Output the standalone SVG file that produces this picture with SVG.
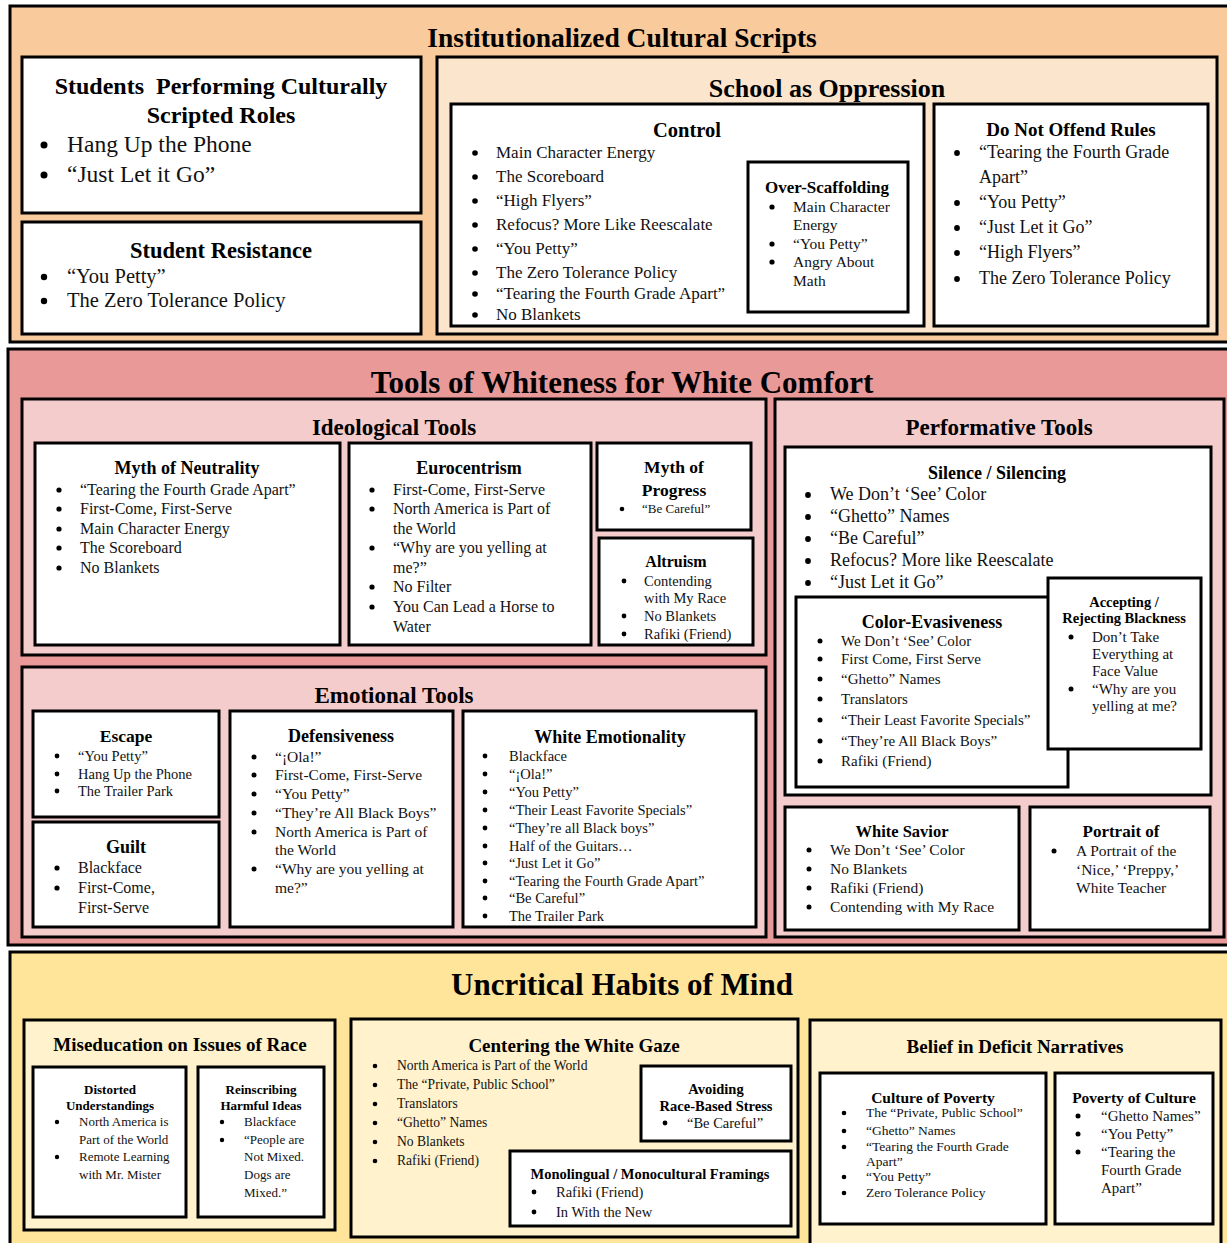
<svg xmlns="http://www.w3.org/2000/svg" width="1227" height="1243" viewBox="0 0 1227 1243">
<style>
rect{stroke:#000;stroke-width:3}
.s1{fill:#f9cb9c}.i1{fill:#fce5cd}.s2{fill:#ea9999}.i2{fill:#f4cccc}.s3{fill:#ffe599}.i3{fill:#fff2cc}.w{fill:#fff}
text{font-family:"Liberation Serif","Times New Roman",serif;fill:#111}
.t{font-weight:bold;text-anchor:middle;fill:#000}
circle{fill:#000}
</style>
<rect width="1227" height="1243" fill="#fff" style="stroke:none"/>

<g id="sec-institutional">
<rect class="s1" x="10" y="6" width="1225" height="336"/>
<text class="t" x="622" y="47" font-size="27.5">Institutionalized Cultural Scripts</text>
</g>
<g id="students-performing">
<rect class="w" x="22" y="57" width="399" height="156"/>
<text class="t" x="221" y="94" font-size="24" xml:space="preserve">Students  Performing Culturally</text>
<text class="t" x="221" y="123" font-size="24">Scripted Roles</text>
<g font-size="23.5"><circle cx="44" cy="145" r="3.5"/><text x="67" y="152">Hang Up the Phone</text>
<circle cx="44" cy="175" r="3.5"/><text x="67" y="182">“Just Let it Go”</text></g>
</g>
<g id="student-resistance">
<rect class="w" x="22" y="222" width="399" height="112"/>
<text class="t" x="221" y="258" font-size="22.5">Student Resistance</text>
<g font-size="20.5"><circle cx="44" cy="277" r="3.2"/><text x="67" y="283">“You Petty”</text>
<circle cx="44" cy="301" r="3.2"/><text x="67" y="307">The Zero Tolerance Policy</text></g>
</g>
<g id="school-oppression">
<rect class="i1" x="437" y="57" width="780" height="277"/>
<text class="t" x="827" y="97" font-size="26">School as Oppression</text>
</g>
<g id="control">
<rect class="w" x="451" y="104" width="473" height="222"/>
<text class="t" x="687" y="137" font-size="20.5">Control</text>
<g font-size="17">
<circle cx="475" cy="153" r="2.8"/><text x="496" y="158">Main Character Energy</text>
<circle cx="475" cy="177" r="2.8"/><text x="496" y="182">The Scoreboard</text>
<circle cx="475" cy="201" r="2.8"/><text x="496" y="206">“High Flyers”</text>
<circle cx="475" cy="225" r="2.8"/><text x="496" y="230">Refocus? More Like Reescalate</text>
<circle cx="475" cy="249" r="2.8"/><text x="496" y="254">“You Petty”</text>
<circle cx="475" cy="273" r="2.8"/><text x="496" y="278">The Zero Tolerance Policy</text>
<circle cx="475" cy="294" r="2.8"/><text x="496" y="299">“Tearing the Fourth Grade Apart”</text>
<circle cx="475" cy="315" r="2.8"/><text x="496" y="320">No Blankets</text>
</g>
</g>
<g id="over-scaffolding">
<rect class="w" x="748" y="162" width="160" height="150"/>
<text class="t" x="827" y="193" font-size="17">Over-Scaffolding</text>
<g font-size="15.5">
<circle cx="772" cy="207" r="2.6"/><text x="793" y="212">Main Character</text>
<text x="793" y="230">Energy</text>
<circle cx="772" cy="244" r="2.6"/><text x="793" y="249">“You Petty”</text>
<circle cx="772" cy="262" r="2.6"/><text x="793" y="267">Angry About</text>
<text x="793" y="286">Math</text>
</g>
</g>
<g id="do-not-offend">
<rect class="w" x="934" y="104" width="274" height="222"/>
<text class="t" x="1071" y="136" font-size="19">Do Not Offend Rules</text>
<g font-size="18">
<circle cx="957" cy="153" r="2.9"/><text x="979" y="158">“Tearing the Fourth Grade</text>
<text x="979" y="183">Apart”</text>
<circle cx="957" cy="203" r="2.9"/><text x="979" y="208">“You Petty”</text>
<circle cx="957" cy="228" r="2.9"/><text x="979" y="233">“Just Let it Go”</text>
<circle cx="957" cy="253" r="2.9"/><text x="979" y="258">“High Flyers”</text>
<circle cx="957" cy="279" r="2.9"/><text x="979" y="284">The Zero Tolerance Policy</text>
</g>
</g>

<g id="sec-tools">
<rect class="s2" x="8" y="349" width="1227" height="596"/>
<text class="t" x="622" y="393" font-size="31">Tools of Whiteness for White Comfort</text>
</g>
<g id="ideological-tools">
<rect class="i2" x="22" y="399" width="744" height="256"/>
<text class="t" x="394" y="435" font-size="23">Ideological Tools</text>
</g>
<g id="myth-neutrality">
<rect class="w" x="35" y="443" width="305" height="202"/>
<text class="t" x="187" y="474" font-size="18">Myth of Neutrality</text>
<g font-size="16">
<circle cx="59" cy="490" r="2.6"/><text x="80" y="495">“Tearing the Fourth Grade Apart”</text>
<circle cx="59" cy="509" r="2.6"/><text x="80" y="514">First-Come, First-Serve</text>
<circle cx="59" cy="529" r="2.6"/><text x="80" y="534">Main Character Energy</text>
<circle cx="59" cy="548" r="2.6"/><text x="80" y="553">The Scoreboard</text>
<circle cx="59" cy="568" r="2.6"/><text x="80" y="573">No Blankets</text>
</g>
</g>
<g id="eurocentrism">
<rect class="w" x="349" y="443" width="242" height="202"/>
<text class="t" x="469" y="474" font-size="18">Eurocentrism</text>
<g font-size="16">
<circle cx="372" cy="490" r="2.6"/><text x="393" y="495">First-Come, First-Serve</text>
<circle cx="372" cy="509" r="2.6"/><text x="393" y="514">North America is Part of</text>
<text x="393" y="534">the World</text>
<circle cx="372" cy="548" r="2.6"/><text x="393" y="553">“Why are you yelling at</text>
<text x="393" y="573">me?”</text>
<circle cx="372" cy="587" r="2.6"/><text x="393" y="592">No Filter</text>
<circle cx="372" cy="607" r="2.6"/><text x="393" y="612">You Can Lead a Horse to</text>
<text x="393" y="632">Water</text>
</g>
</g>
<g id="myth-progress">
<rect class="w" x="597" y="443" width="154" height="87"/>
<text class="t" x="674" y="473" font-size="17.5">Myth of</text>
<text class="t" x="674" y="496" font-size="17.5">Progress</text>
<circle cx="622" cy="509" r="2.3"/><text x="642" y="513" font-size="13">“Be Careful”</text>
</g>
<g id="altruism">
<rect class="w" x="599" y="538" width="154" height="107"/>
<text class="t" x="676" y="567" font-size="16">Altruism</text>
<g font-size="14.5">
<circle cx="624" cy="581" r="2.4"/><text x="644" y="586">Contending</text>
<text x="644" y="603">with My Race</text>
<circle cx="624" cy="616" r="2.4"/><text x="644" y="621">No Blankets</text>
<circle cx="624" cy="634" r="2.4"/><text x="644" y="639">Rafiki (Friend)</text>
</g>
</g>
<g id="emotional-tools">
<rect class="i2" x="22" y="667" width="744" height="270"/>
<text class="t" x="394" y="703" font-size="23">Emotional Tools</text>
</g>
<g id="escape">
<rect class="w" x="33" y="711" width="186" height="106"/>
<text class="t" x="126" y="742" font-size="17.5">Escape</text>
<g font-size="14.5">
<circle cx="57" cy="756" r="2.4"/><text x="78" y="761">“You Petty”</text>
<circle cx="57" cy="774" r="2.4"/><text x="78" y="779">Hang Up the Phone</text>
<circle cx="57" cy="791" r="2.4"/><text x="78" y="796">The Trailer Park</text>
</g>
</g>
<g id="guilt">
<rect class="w" x="33" y="822" width="186" height="105"/>
<text class="t" x="126" y="853" font-size="18">Guilt</text>
<g font-size="16">
<circle cx="57" cy="868" r="2.6"/><text x="78" y="873">Blackface</text>
<circle cx="57" cy="888" r="2.6"/><text x="78" y="893">First-Come,</text>
<text x="78" y="913">First-Serve</text>
</g>
</g>
<g id="defensiveness">
<rect class="w" x="230" y="711" width="223" height="216"/>
<text class="t" x="341" y="742" font-size="18">Defensiveness</text>
<g font-size="15.5">
<circle cx="254" cy="757" r="2.5"/><text x="275" y="762">“¡Ola!”</text>
<circle cx="254" cy="775" r="2.5"/><text x="275" y="780">First-Come, First-Serve</text>
<circle cx="254" cy="794" r="2.5"/><text x="275" y="799">“You Petty”</text>
<circle cx="254" cy="813" r="2.5"/><text x="275" y="818">“They’re All Black Boys”</text>
<circle cx="254" cy="832" r="2.5"/><text x="275" y="837">North America is Part of</text>
<text x="275" y="855">the World</text>
<circle cx="254" cy="869" r="2.5"/><text x="275" y="874">“Why are you yelling at</text>
<text x="275" y="893">me?”</text>
</g>
</g>
<g id="white-emotionality">
<rect class="w" x="463" y="711" width="293" height="216"/>
<text class="t" x="610" y="743" font-size="18">White Emotionality</text>
<g font-size="14.5">
<circle cx="485" cy="756" r="2.4"/><text x="509" y="761">Blackface</text>
<circle cx="485" cy="774" r="2.4"/><text x="509" y="779">“¡Ola!”</text>
<circle cx="485" cy="792" r="2.4"/><text x="509" y="797">“You Petty”</text>
<circle cx="485" cy="810" r="2.4"/><text x="509" y="815">“Their Least Favorite Specials”</text>
<circle cx="485" cy="828" r="2.4"/><text x="509" y="833">“They’re all Black boys”</text>
<circle cx="485" cy="846" r="2.4"/><text x="509" y="851">Half of the Guitars…</text>
<circle cx="485" cy="863" r="2.4"/><text x="509" y="868">“Just Let it Go”</text>
<circle cx="485" cy="881" r="2.4"/><text x="509" y="886">“Tearing the Fourth Grade Apart”</text>
<circle cx="485" cy="898" r="2.4"/><text x="509" y="903">“Be Careful”</text>
<circle cx="485" cy="916" r="2.4"/><text x="509" y="921">The Trailer Park</text>
</g>
</g>
<g id="performative-tools">
<rect class="i2" x="775" y="399" width="449" height="538"/>
<text class="t" x="999" y="435" font-size="23">Performative Tools</text>
</g>
<g id="silence">
<rect class="w" x="785" y="447" width="426" height="348"/>
<text class="t" x="997" y="479" font-size="18">Silence / Silencing</text>
<g font-size="18">
<circle cx="808" cy="495" r="2.9"/><text x="830" y="500">We Don’t ‘See’ Color</text>
<circle cx="808" cy="517" r="2.9"/><text x="830" y="522">“Ghetto” Names</text>
<circle cx="808" cy="539" r="2.9"/><text x="830" y="544">“Be Careful”</text>
<circle cx="808" cy="561" r="2.9"/><text x="830" y="566">Refocus? More like Reescalate</text>
<circle cx="808" cy="583" r="2.9"/><text x="830" y="588">“Just Let it Go”</text>
</g>
</g>
<g id="color-evasiveness">
<rect class="w" x="796" y="597" width="272" height="190"/>
<text class="t" x="932" y="628" font-size="18">Color-Evasiveness</text>
<g font-size="15">
<circle cx="820" cy="641" r="2.5"/><text x="841" y="646">We Don’t ‘See’ Color</text>
<circle cx="820" cy="659" r="2.5"/><text x="841" y="664">First Come, First Serve</text>
<circle cx="820" cy="679" r="2.5"/><text x="841" y="684">“Ghetto” Names</text>
<circle cx="820" cy="699" r="2.5"/><text x="841" y="704">Translators</text>
<circle cx="820" cy="720" r="2.5"/><text x="841" y="725">“Their Least Favorite Specials”</text>
<circle cx="820" cy="741" r="2.5"/><text x="841" y="746">“They’re All Black Boys”</text>
<circle cx="820" cy="761" r="2.5"/><text x="841" y="766">Rafiki (Friend)</text>
</g>
</g>
<g id="accepting-rejecting">
<rect class="w" x="1048" y="578" width="153" height="171"/>
<text class="t" x="1124" y="607" font-size="14.5">Accepting /</text>
<text class="t" x="1124" y="623" font-size="14.5">Rejecting Blackness</text>
<g font-size="15">
<circle cx="1071" cy="637" r="2.5"/><text x="1092" y="642">Don’t Take</text>
<text x="1092" y="659">Everything at</text>
<text x="1092" y="676">Face Value</text>
<circle cx="1071" cy="689" r="2.5"/><text x="1092" y="694">“Why are you</text>
<text x="1092" y="711">yelling at me?</text>
</g>
</g>
<g id="white-savior">
<rect class="w" x="785" y="807" width="234" height="123"/>
<text class="t" x="902" y="837" font-size="16.5">White Savior</text>
<g font-size="15.5">
<circle cx="809" cy="850" r="2.5"/><text x="830" y="855">We Don’t ‘See’ Color</text>
<circle cx="809" cy="869" r="2.5"/><text x="830" y="874">No Blankets</text>
<circle cx="809" cy="888" r="2.5"/><text x="830" y="893">Rafiki (Friend)</text>
<circle cx="809" cy="907" r="2.5"/><text x="830" y="912">Contending with My Race</text>
</g>
</g>
<g id="portrait-of">
<rect class="w" x="1030" y="807" width="180" height="123"/>
<text class="t" x="1121" y="837" font-size="17">Portrait of</text>
<g font-size="15.5">
<circle cx="1054" cy="851" r="2.5"/><text x="1076" y="856">A Portrait of the</text>
<text x="1076" y="875">‘Nice,’ ‘Preppy,’</text>
<text x="1076" y="893">White Teacher</text>
</g>
</g>

<g id="sec-uncritical">
<rect class="s3" x="10" y="952" width="1225" height="300"/>
<text class="t" x="622" y="995" font-size="31">Uncritical Habits of Mind</text>
</g>
<g id="miseducation">
<rect class="i3" x="24" y="1020" width="311" height="210"/>
<text class="t" x="180" y="1051" font-size="19">Miseducation on Issues of Race</text>
</g>
<g id="distorted">
<rect class="w" x="33" y="1067" width="153" height="150"/>
<text class="t" x="110" y="1094" font-size="13">Distorted</text>
<text class="t" x="110" y="1110" font-size="13">Understandings</text>
<g font-size="13">
<circle cx="57" cy="1122" r="2.2"/><text x="79" y="1126">North America is</text>
<text x="79" y="1144">Part of the World</text>
<circle cx="57" cy="1157" r="2.2"/><text x="79" y="1161">Remote Learning</text>
<text x="79" y="1179">with Mr. Mister</text>
</g>
</g>
<g id="reinscribing">
<rect class="w" x="198" y="1067" width="126" height="150"/>
<text class="t" x="261" y="1094" font-size="13">Reinscribing</text>
<text class="t" x="261" y="1110" font-size="13">Harmful Ideas</text>
<g font-size="13">
<circle cx="222" cy="1122" r="2.2"/><text x="244" y="1126">Blackface</text>
<circle cx="222" cy="1140" r="2.2"/><text x="244" y="1144">“People are</text>
<text x="244" y="1161">Not Mixed.</text>
<text x="244" y="1179">Dogs are</text>
<text x="244" y="1197">Mixed.”</text>
</g>
</g>
<g id="centering">
<rect class="i3" x="351" y="1019" width="447" height="218"/>
<text class="t" x="574" y="1052" font-size="19">Centering the White Gaze</text>
<g font-size="13.6">
<circle cx="375" cy="1066" r="2.3"/><text x="397" y="1070">North America is Part of the World</text>
<circle cx="375" cy="1085" r="2.3"/><text x="397" y="1089">The “Private, Public School”</text>
<circle cx="375" cy="1104" r="2.3"/><text x="397" y="1108">Translators</text>
<circle cx="375" cy="1123" r="2.3"/><text x="397" y="1127">“Ghetto” Names</text>
<circle cx="375" cy="1142" r="2.3"/><text x="397" y="1146">No Blankets</text>
<circle cx="375" cy="1161" r="2.3"/><text x="397" y="1165">Rafiki (Friend)</text>
</g>
</g>
<g id="avoiding">
<rect class="w" x="641" y="1066" width="150" height="75"/>
<text class="t" x="716" y="1094" font-size="14.5">Avoiding</text>
<text class="t" x="716" y="1111" font-size="14.5">Race-Based Stress</text>
<circle cx="665" cy="1123" r="2.4"/><text x="687" y="1128" font-size="14.5">“Be Careful”</text>
</g>
<g id="monolingual">
<rect class="w" x="510" y="1151" width="281" height="75"/>
<text class="t" x="650" y="1179" font-size="14.5">Monolingual / Monocultural Framings</text>
<g font-size="14.5">
<circle cx="534" cy="1192" r="2.4"/><text x="556" y="1197">Rafiki (Friend)</text>
<circle cx="534" cy="1212" r="2.4"/><text x="556" y="1217">In With the New</text>
</g>
</g>
<g id="belief-deficit">
<rect class="i3" x="810" y="1020" width="411" height="240"/>
<text class="t" x="1015" y="1053" font-size="19">Belief in Deficit Narratives</text>
</g>
<g id="culture-of-poverty">
<rect class="w" x="820" y="1073" width="226" height="151"/>
<text class="t" x="933" y="1103" font-size="15.5">Culture of Poverty</text>
<g font-size="13.5">
<circle cx="844" cy="1113" r="2.3"/><text x="866" y="1117">The “Private, Public School”</text>
<circle cx="844" cy="1131" r="2.3"/><text x="866" y="1135">“Ghetto” Names</text>
<circle cx="844" cy="1147" r="2.3"/><text x="866" y="1151">“Tearing the Fourth Grade</text>
<text x="866" y="1166">Apart”</text>
<circle cx="844" cy="1177" r="2.3"/><text x="866" y="1181">“You Petty”</text>
<circle cx="844" cy="1193" r="2.3"/><text x="866" y="1197">Zero Tolerance Policy</text>
</g>
</g>
<g id="poverty-of-culture">
<rect class="w" x="1055" y="1073" width="158" height="151"/>
<text class="t" x="1134" y="1103" font-size="15.5">Poverty of Culture</text>
<g font-size="15">
<circle cx="1078" cy="1116" r="2.5"/><text x="1101" y="1121">“Ghetto Names”</text>
<circle cx="1078" cy="1134" r="2.5"/><text x="1101" y="1139">“You Petty”</text>
<circle cx="1078" cy="1152" r="2.5"/><text x="1101" y="1157">“Tearing the</text>
<text x="1101" y="1175">Fourth Grade</text>
<text x="1101" y="1193">Apart”</text>
</g>
</g>
<g id="connectors"></g>
</svg>
